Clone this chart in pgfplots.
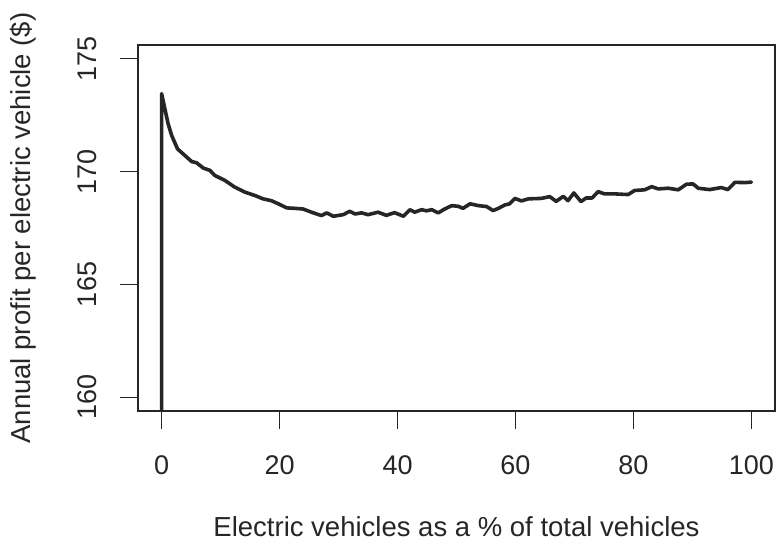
\documentclass[border=0pt]{standalone}
\usepackage{pgfplots}
\pgfplotsset{compat=1.18}
\usepackage{fontspec}
\setmainfont{Liberation Sans}
\definecolor{linec}{HTML}{262626}
\begin{document}
\begin{tikzpicture}
\path[use as bounding box] (-138pt,-135pt) rectangle (640pt,411pt);
\begin{axis}[
  at={(0pt,0pt)}, anchor=south west,
  scale only axis, width=637pt, height=366pt,
  xmin=-4, xmax=104, ymin=159.4, ymax=175.6,
  axis line style={line width=1.6pt, color=linec},
  xtick={0,20,40,60,80,100}, ytick={160,165,170,175},
  tick align=outside, major tick length=18pt,
  tick style={line width=1.6pt, color=linec},
  xtick pos=bottom, ytick pos=left,
  /pgf/number format/assume math mode=true,
  tick label style={font=\fontsize{27}{32}\selectfont, text=linec},
  xticklabel style={anchor=center, yshift=-36pt},
  yticklabel style={xshift=-33pt, anchor=center, rotate=90},
  xlabel={Electric vehicles as a \% of total vehicles},
  ylabel={Annual profit per electric vehicle (\$)},
  every axis x label/.style={at={(axis description cs:0.5,0)}, anchor=center, yshift=-116pt, font=\fontsize{27.5}{32}\selectfont, text=linec},
  every axis y label/.style={at={(axis description cs:0,0.5)}, xshift=-115pt, anchor=center, rotate=90, font=\fontsize{27.5}{32}\selectfont, text=linec},
  clip=true,
]
\addplot[color=linec, line width=3.6pt, line join=round, line cap=round] coordinates {
(0,150) (0,173.45) (1.1,172.12) (1.7,171.6) (2.7,171.0) (3.95,170.71) (5.1,170.44)
(5.9,170.39) (7.1,170.15) (8.2,170.05) (9.0,169.83) (10.7,169.61) (12.4,169.31)
(14.1,169.09) (15.8,168.94) (17.2,168.79) (18.6,168.71) (19.8,168.57) (21.2,168.39)
(22.6,168.37) (24.0,168.34) (25.4,168.2) (27.1,168.05) (28.0,168.17) (29.1,168.02)
(30.8,168.09) (31.9,168.24) (32.8,168.12) (33.9,168.17) (35.0,168.09) (36.7,168.2)
(38.1,168.06) (39.5,168.18) (41.0,168.02) (42.1,168.31) (42.9,168.2) (44.1,168.31)
(44.9,168.26) (45.8,168.31) (46.9,168.17) (48.0,168.34) (49.2,168.49) (50.3,168.46)
(51.1,168.37) (52.3,168.57) (53.7,168.49) (55.1,168.45) (56.2,168.27) (57.1,168.37)
(58.2,168.52) (59.0,168.57) (59.9,168.81) (61.0,168.7) (62.2,168.79) (64.4,168.81)
(65.8,168.89) (66.9,168.68) (68.1,168.9) (68.9,168.71) (69.9,169.05) (71.1,168.67)
(72.0,168.83) (73.0,168.83) (74.0,169.11) (75.1,169.01) (76.8,169.01) (79.1,168.98)
(80.2,169.16) (81.9,169.19) (83.1,169.33) (84.2,169.23) (85.9,169.26) (87.6,169.19)
(89.0,169.44) (90.1,169.45) (91.0,169.26) (92.9,169.2) (94.9,169.29) (96.0,169.2)
(97.2,169.52) (98.9,169.51) (100,169.53)
};
\end{axis}
\end{tikzpicture}
\end{document}
